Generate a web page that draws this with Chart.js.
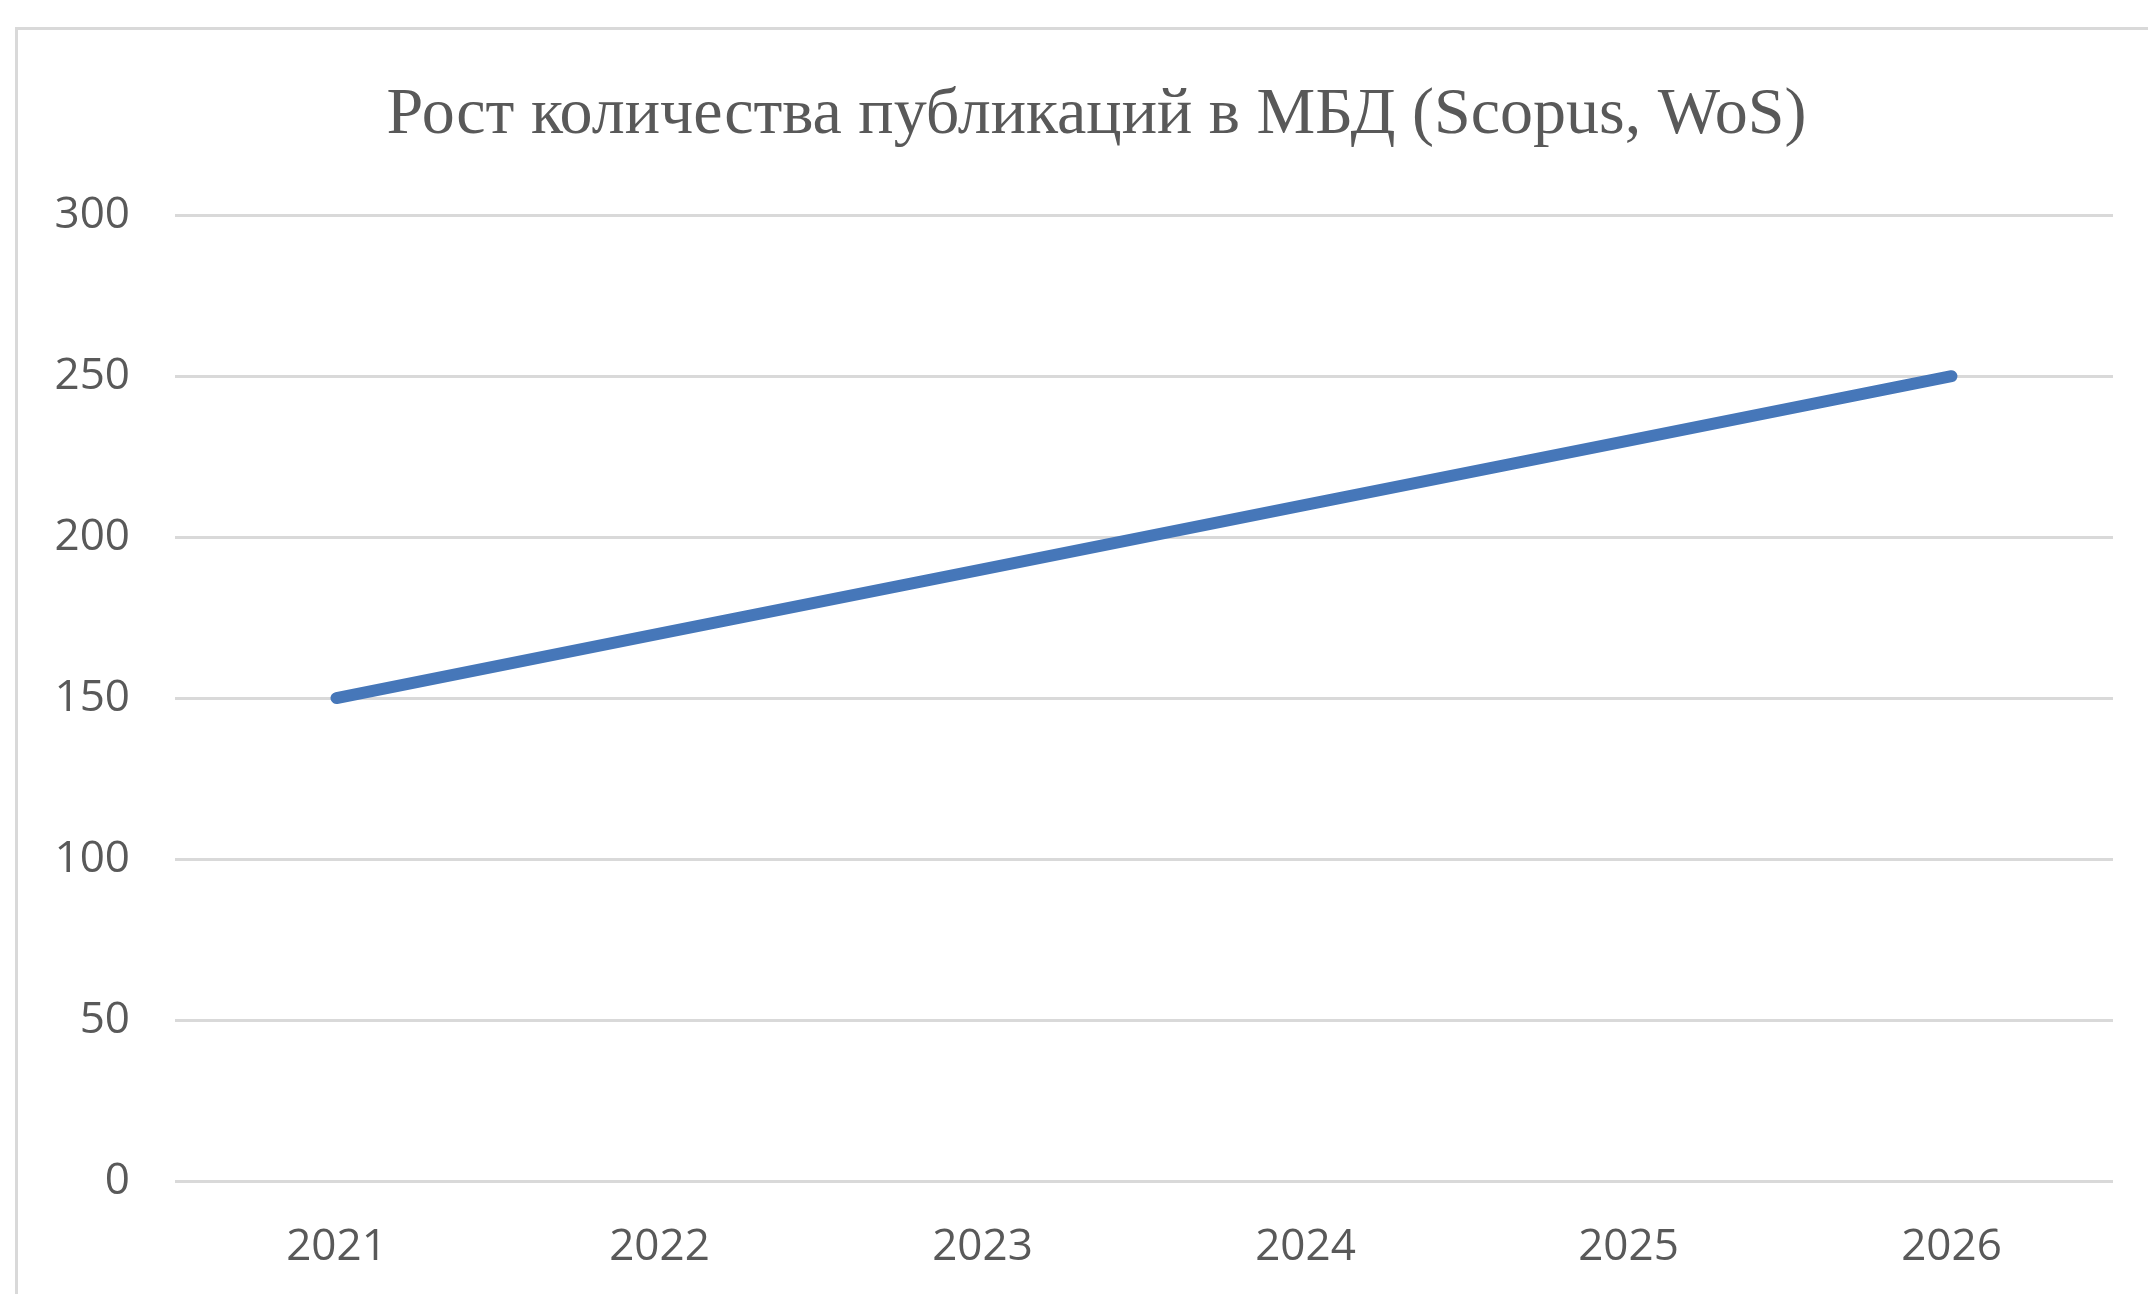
<!DOCTYPE html>
<html lang="ru">
<head>
<meta charset="utf-8">
<title>Рост количества публикаций в МБД</title>
<script src="https://cdn.jsdelivr.net/npm/chart.js@4.4.1/dist/chart.umd.min.js"></script>
<style>
    html, body {
        margin: 0;
        padding: 0;
        background: #ffffff;
        overflow: hidden;
    }
    #frame {
        position: absolute;
        left: 15px;
        top: 27px;
        width: 3000px;
        height: 3000px;
        border: 3px solid #d9d9d9;
        box-sizing: border-box;
    }
    #wrap {
        position: absolute;
        left: 0;
        top: 0;
        width: 2148px;
        height: 1294px;
    }
</style>
</head>
<body>
<div id="frame"></div>
<div id="wrap"><canvas id="pubChart"></canvas></div>
<script>
// Chart data
const years = ['2021', '2022', '2023', '2024', '2025', '2026'];
const publications = [150, 170, 190, 210, 230, 250];
const yTicks = [0, 50, 100, 150, 200, 250, 300];

const TITLE = 'Рост количества публикаций в МБД (Scopus, WoS)';
const LINE_COLOR = '#4677b9';
const GRID_COLOR = '#d9d9d9';
const LABEL_COLOR = '#595959';

// The title is centred on the outer frame, not on the canvas: nudge its box
const titleShift = {
    id: 'titleShift',
    afterLayout(chart) {
        if (chart.titleBlock) chart.titleBlock.left += 80;
    }
};

const ctx = document.getElementById('pubChart').getContext('2d');

new Chart(ctx, {
    type: 'line',
    data: {
        labels: years,
        datasets: [{
            label: 'Публикации',
            data: publications,
            borderColor: LINE_COLOR,
            backgroundColor: LINE_COLOR,
            borderWidth: 12,
            borderCapStyle: 'round',
            borderJoinStyle: 'round',
            pointRadius: 0,
            pointHoverRadius: 0,
            tension: 0,
            fill: false,
        }]
    },
    plugins: [titleShift],
    options: {
        responsive: true,
        maintainAspectRatio: false,
        animation: false,
        devicePixelRatio: 1,
        layout: {
            padding: { left: 0, right: 35, top: 0, bottom: 0 }
        },
        plugins: {
            legend: { display: false },
            tooltip: { enabled: false },
            title: {
                display: true,
                text: TITLE,
                color: LABEL_COLOR,
                font: { family: '"Liberation Serif", "Times New Roman", serif', size: 66, weight: 'normal', lineHeight: 1.2 },
                padding: { top: 76, bottom: 60 },
            }
        },
        scales: {
            x: {
                offset: true,
                border: { display: false },
                grid: { display: false, drawTicks: false },
                ticks: {
                    color: LABEL_COLOR,
                    font: { family: '"Open Sans", sans-serif', size: 44 },
                    padding: 40,
                    maxRotation: 0,
                },
                afterFit: function(scale) { scale.height = 113; }
            },
            y: {
                min: yTicks[0],
                max: yTicks[yTicks.length - 1],
                border: { display: false },
                grid: {
                    color: GRID_COLOR,
                    lineWidth: 3,
                    drawTicks: false,
                },
                ticks: {
                    stepSize: yTicks[1] - yTicks[0],
                    color: LABEL_COLOR,
                    font: { family: '"Open Sans", sans-serif', size: 44 },
                    padding: 45,
                },
                afterFit: function(scale) { scale.width = 175; }
            }
        }
    }
});
</script>
</body>
</html>
